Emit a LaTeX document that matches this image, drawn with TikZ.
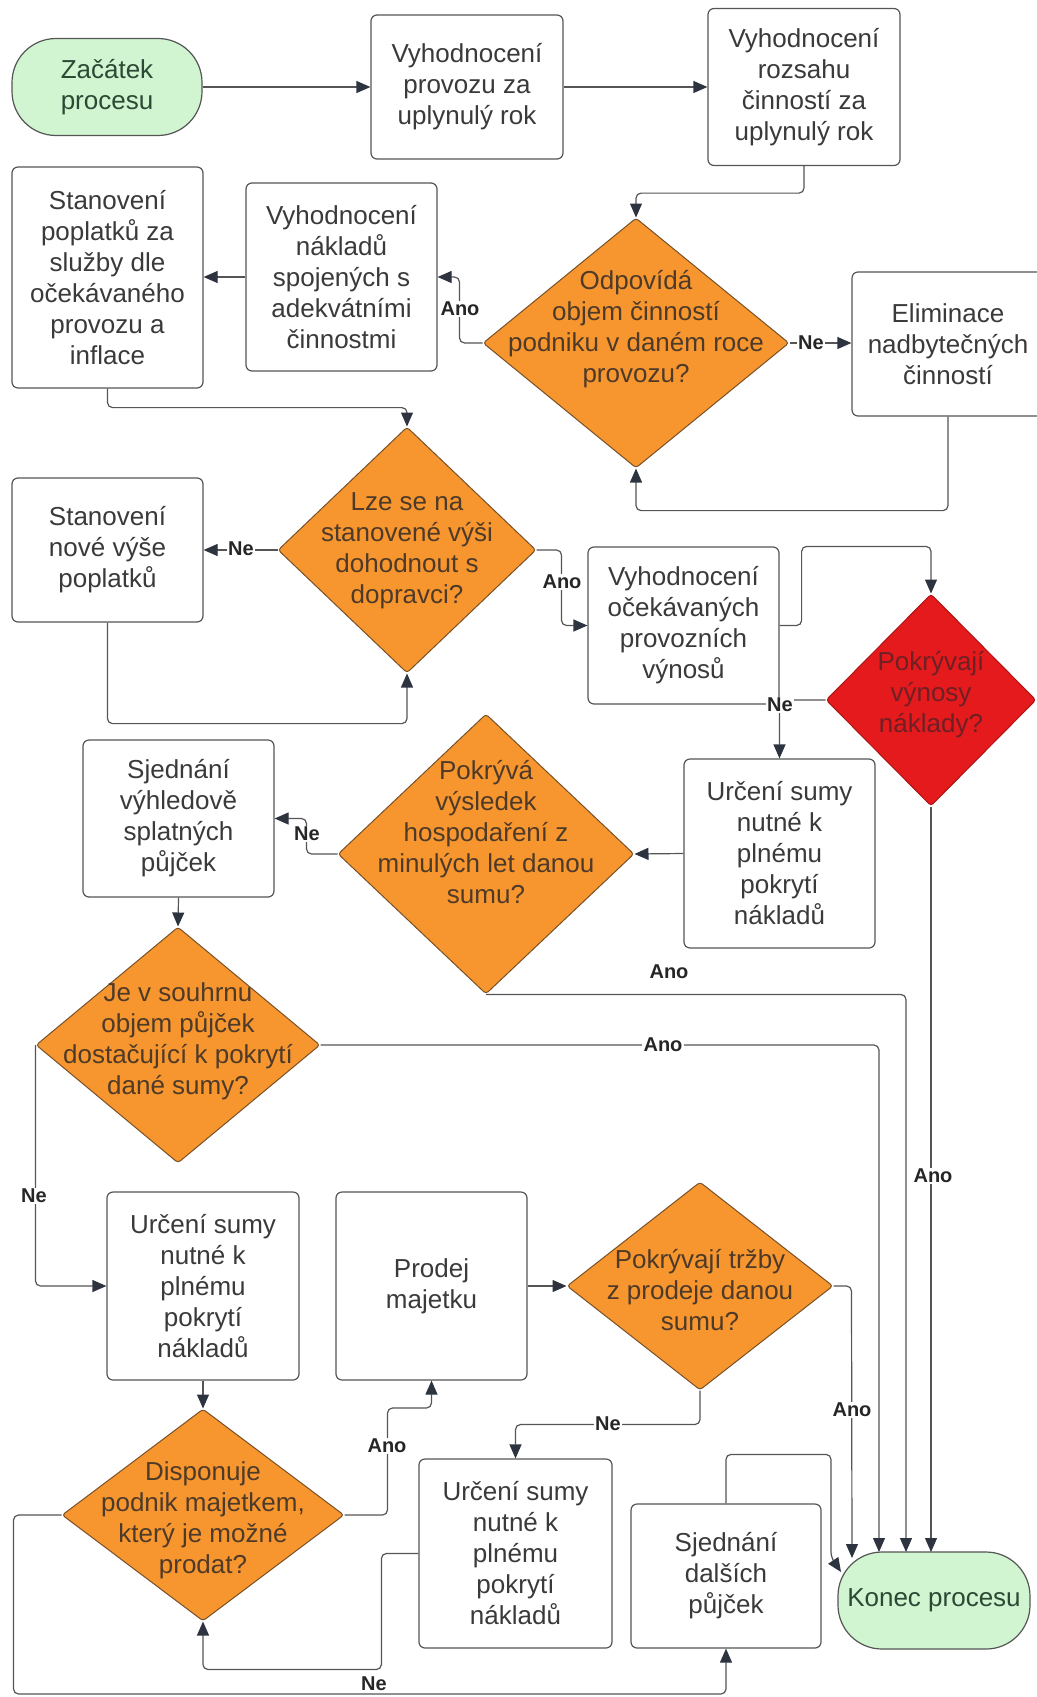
\documentclass[tikz,border=0pt]{standalone}
\usepackage{fontspec}
\setmainfont{Liberation Sans}
\usepackage{tikz}
\usetikzlibrary{arrows.meta,shapes.geometric}
\definecolor{linegray}{RGB}{85,85,85}
\definecolor{tipdark}{RGB}{45,52,64}
\definecolor{boxtext}{RGB}{58,58,58}
\definecolor{qorange}{RGB}{247,150,47}
\definecolor{qedge}{RGB}{120,80,40}
\definecolor{qtext}{RGB}{78,58,40}
\definecolor{qred}{RGB}{228,26,28}
\definecolor{qredtext}{RGB}{110,32,36}
\definecolor{startgreen}{RGB}{208,245,208}
\definecolor{greentext}{RGB}{45,72,52}

\newcommand{\qtext}[2][-7pt]{\smash{\raisebox{#1}{\makebox[0pt]{\begin{tabular}{@{}c@{}}#2\end{tabular}}}}}

\tikzset{
  process/.style={draw=linegray, line width=1.2pt, fill=white, rounded corners=6pt,
    align=center, inner sep=0pt, text=boxtext, font=\fontsize{26}{31}\selectfont},
  terminal/.style={process, fill=startgreen, text=greentext, rounded corners=44pt},
  decision/.style={diamond, draw=qedge, line width=1pt, fill=qorange, inner sep=0pt,
    rounded corners=3pt, text=qtext, font=\fontsize{26}{31}\selectfont},
  flow/.style={draw=linegray, line width=1.2pt, rounded corners=5pt,
    -{Triangle[length=14pt,width=12pt,color=tipdark]}},
  answer/.style={fill=white, inner sep=1.5pt, text=black!85,
    font=\fontsize{20}{20}\selectfont\bfseries}
}

\begin{document}
\begin{tikzpicture}[x=1pt,y=-1pt]
  \useasboundingbox (0,0) rectangle (1036,1697);

  % top row
  \node[terminal, minimum width=190pt, minimum height=97pt] (start) at (107,87) {Začátek\\procesu};
  \node[process, minimum width=192pt, minimum height=144pt] (evalOps) at (467,87) {Vyhodnocení\\provozu za\\uplynulý rok};
  \node[process, minimum width=192pt, minimum height=157pt] (evalScope) at (804,87) {Vyhodnocení\\rozsahu\\činností za\\uplynulý rok};

  % second row
  \node[process, minimum width=191pt, minimum height=221pt] (setFees) at (107.5,277.5) {Stanovení\\poplatků za\\služby dle\\očekávaného\\provozu a\\inflace};
  \node[process, minimum width=191pt, minimum height=188pt] (evalCosts) at (341.5,277) {Vyhodnocení\\nákladů\\spojených s\\adekvátními\\činnostmi};
  \node[decision, minimum width=306pt, minimum height=250pt] (qVolume) at (636,343) {\qtext[7pt]{Odpovídá\\objem činností\\podniku v daném roce\\provozu?}};
  \node[process, minimum width=192pt, minimum height=144pt] (cutTasks) at (948,344) {Eliminace\\nadbytečných\\činností};

  % third row
  \node[decision, minimum width=258pt, minimum height=246pt] (qAgree) at (407,550) {\qtext{Lze se na\\stanovené výši\\dohodnout s\\dopravci?}};
  \node[process, minimum width=191pt, minimum height=144pt] (newFees) at (107.5,550) {Stanovení\\nové výše\\poplatků};
  \node[process, minimum width=191pt, minimum height=157pt] (evalRev) at (683.5,625.5) {Vyhodnocení\\očekávaných\\provozních\\výnosů};
  \node[decision, fill=qred, draw=qred!75!black, text=qredtext, minimum width=210pt, minimum height=212pt] (qCover) at (931,700) {\qtext[-2pt]{Pokrývají\\výnosy\\náklady?}};

  % fourth row
  \node[process, minimum width=191pt, minimum height=189pt] (sum1) at (779.5,853.5) {Určení sumy\\nutné k\\plnému\\pokrytí\\nákladů};
  \node[decision, minimum width=296pt, minimum height=280pt] (qResult) at (486,854) {\qtext[12pt]{Pokrývá\\výsledek\\hospodaření z\\minulých let danou\\sumu?}};
  \node[process, minimum width=191pt, minimum height=157pt] (loanFwd) at (178.5,818.5) {Sjednání\\výhledově\\splatných\\půjček};
  \node[decision, minimum width=284pt, minimum height=236pt] (qLoans) at (178,1045) {\qtext[-3pt]{Je v souhrnu\\objem půjček\\dostačující k pokrytí\\dané sumy?}};

  % fifth row
  \node[process, minimum width=192pt, minimum height=188pt] (sum2) at (203,1286) {Určení sumy\\nutné k\\plnému\\pokrytí\\nákladů};
  \node[process, minimum width=191pt, minimum height=188pt] (sell) at (431.5,1286) {Prodej\\majetku};
  \node[decision, minimum width=266pt, minimum height=208pt] (qSale) at (700,1286) {\qtext[-14pt]{Pokrývají tržby\\z prodeje danou\\sumu?}};

  % bottom row
  \node[decision, minimum width=282pt, minimum height=212pt] (qAssets) at (203,1515) {\qtext[-12pt]{Disponuje\\podnik majetkem,\\který je možné\\prodat?}};
  \node[process, minimum width=193pt, minimum height=189pt] (sum3) at (515.5,1553.5) {Určení sumy\\nutné k\\plnému\\pokrytí\\nákladů};
  \node[process, minimum width=190pt, minimum height=144pt] (loanMore) at (726,1576) {Sjednání\\dalších\\půjček};
  \node[terminal, minimum width=192pt, minimum height=97pt] (end) at (934,1600.5) {Konec procesu};

  % entry points on the end node
  \coordinate (endA) at (852,1558);
  \coordinate (endB) at (879,1552);
  \coordinate (endC) at (906,1552);
  \coordinate (endD) at (931,1552);
  \coordinate (endE) at (841,1572);

  % connectors
  \draw[flow] (start.east) -- (start.east -| evalOps.west);
  \draw[flow] (evalOps.east) -- (evalOps.east -| evalScope.west);
  \draw[flow] (evalScope.south) -- ++(0,27) -| (qVolume.north);
  \draw[flow] (qVolume.west) -- ++(-23,0) |- (evalCosts.east);
  \draw[flow] (evalCosts.west) -- (evalCosts.west -| setFees.east);
  \draw[flow] (qVolume.east) -- (qVolume.east -| cutTasks.west);
  \draw[flow] (cutTasks.south) -- ++(0,94) -| (qVolume.south);
  \draw[flow] (setFees.south) -- ++(0,19) -| (qAgree.north);
  \draw[flow] (qAgree.west) -- (qAgree.west -| newFees.east);
  \draw[flow] (newFees.south) -- ++(0,101) -| (qAgree.south);
  \draw[flow] (qAgree.east) -- ++(25,0) |- (evalRev.west);
  \draw[flow] (evalRev.east) -- ++(22,0) |- (evalRev.north -| qCover.north) -- (qCover.north);
  \draw[flow] (qCover.west) -| (sum1.north);
  \draw[flow] (sum1.west) -- (qResult.east);
  \draw[flow] (qResult.west) -- ++(-31,0) |- (loanFwd.east);
  \draw[flow] (loanFwd.south) -- (qLoans.north);
  \draw[flow] (qResult.south) -| (endC);
  \draw[flow] (qLoans.east) -| (endB);
  \draw[flow] (qCover.south) -- (endD);
  \draw[flow] (qLoans.west) |- (sum2.west);
  \draw[flow] (sum2.south) -- (qAssets.north);
  \draw[flow] (qAssets.east) -- ++(43,0) -- ++(0,-107) -| (sell.south);
  \draw[flow] (sell.east) -- (qSale.west);
  \draw[flow] (qSale.south) -- ++(0,34) -| (sum3.north);
  \draw[flow] (qSale.east) -- ++(18,0) -- (endA);
  \draw[flow] (sum3.west) -- ++(-37,0) -- ++(0,116) -| (qAssets.south);
  \draw[flow] (qAssets.west) -- ++(-48,0) -- ++(0,179) -| (loanMore.south);
  \draw[flow] (loanMore.north) -- ++(0,-49) -| (831,1557) -- (endE);

  % answers
  \node[answer] (yes1) at (460,309) {Ano};
  \node[answer] (no1) at (811,343) {Ne};
  \node[answer] (no2) at (241,549) {Ne};
  \node[answer] (yes2) at (562,582) {Ano};
  \node[answer] (no3) at (780,705) {Ne};
  \node[answer] (no4) at (307,834) {Ne};
  \node[answer] (yes3) at (669,972) {Ano};
  \node[answer] (yes4) at (663,1045) {Ano};
  \node[answer] (yes5) at (933,1176) {Ano};
  \node[answer] (no5) at (34,1196) {Ne};
  \node[answer] (yes6) at (387,1446) {Ano};
  \node[answer] (no6) at (608,1424) {Ne};
  \node[answer] (yes7) at (852,1410) {Ano};
  \node[answer] (no7) at (374,1684) {Ne};
\end{tikzpicture}
\end{document}
